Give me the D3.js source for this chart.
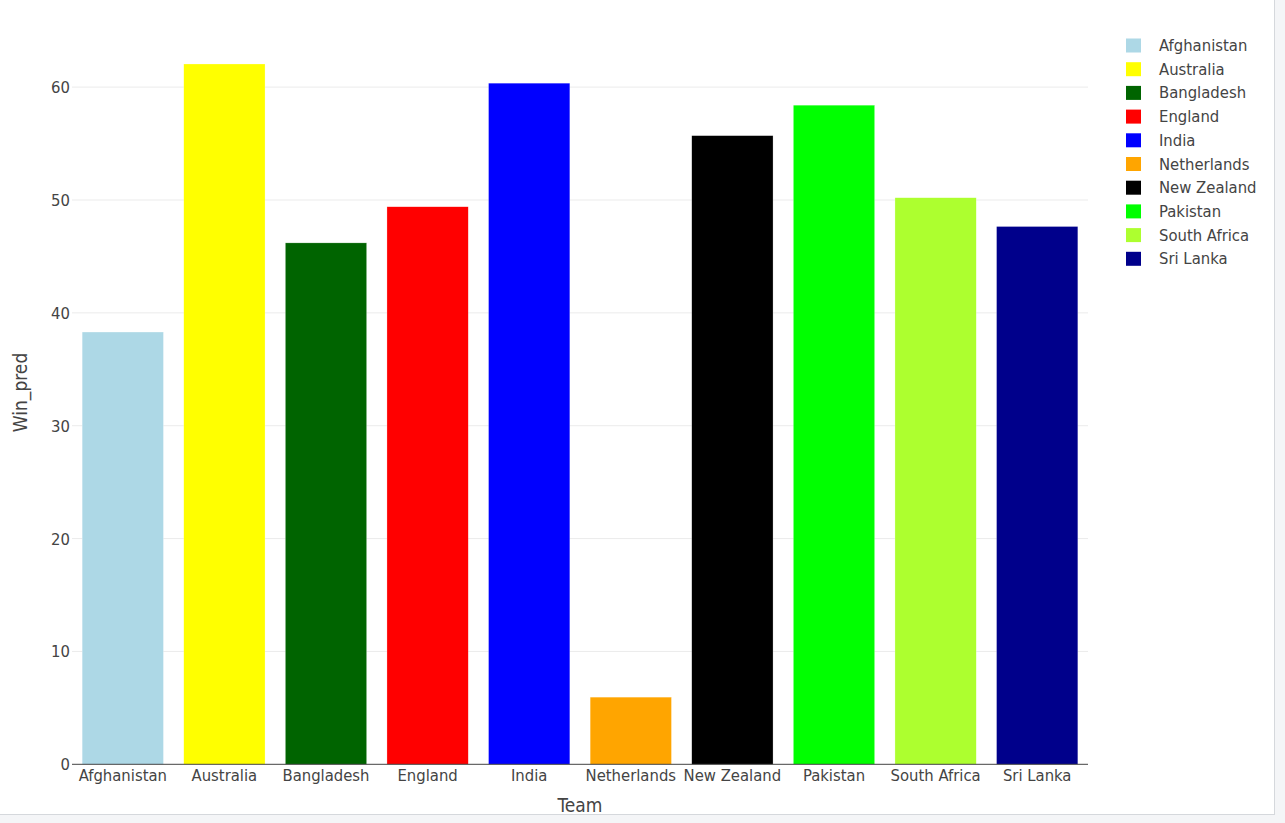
<!DOCTYPE html>
<html>
<head>
<meta charset="utf-8">
<script src="https://cdn.jsdelivr.net/npm/d3@7"></script>
<style>
  html, body { margin: 0; padding: 0; background: #f4f5f7; }
  #frame { position: absolute; left: 0; top: 0; width: 1274px; height: 814px; background: #fff; border-right: 1px solid #d5d8dc; border-bottom: 1px solid #d5d8dc; }
  svg text { font-family: 'DejaVu Sans Condensed', 'DejaVu Sans', sans-serif; font-stretch: condensed; fill: #444; }
</style>
</head>
<body>
<div id="frame"></div>
<svg id="chart" width="1285" height="823" style="position:absolute;left:0;top:0"></svg>
<script>
const teams = ["Afghanistan","Australia","Bangladesh","England","India","Netherlands","New Zealand","Pakistan","South Africa","Sri Lanka"];
const winPred = [38.3, 62.05, 46.2, 49.4, 60.35, 5.95, 55.7, 58.4, 50.2, 47.65];
const colors = ["#add8e6","#ffff00","#006400","#ff0000","#0000ff","#ffa500","#000000","#00ff00","#adff2f","#00008b"];
const yTicks = [0,10,20,30,40,50,60];
const xTitle = "Team";
const yTitle = "Win_pred";

const svg = d3.select("#chart");
const plotL = 72, plotR = 1088, plotT = 29, plotB = 764.3;

const x = d3.scaleBand().domain(teams).range([plotL, plotR]).paddingInner(0.2).paddingOuter(0.1);
const y = d3.scaleLinear().domain([0, 65.15]).range([plotB, plotT]);

// gridlines
svg.append("g").selectAll("line").data(yTicks.filter(d => d > 0)).join("line")
  .attr("x1", plotL).attr("x2", plotR)
  .attr("y1", d => y(d)).attr("y2", d => y(d))
  .attr("stroke", "#ebebeb").attr("stroke-width", 1);

// bars
svg.append("g").selectAll("rect").data(teams).join("rect")
  .attr("x", d => x(d))
  .attr("width", x.bandwidth())
  .attr("y", (d, i) => y(winPred[i]))
  .attr("height", (d, i) => y(0) - y(winPred[i]))
  .attr("fill", (d, i) => colors[i])
  .attr("stroke", "rgba(255,255,255,0.5)").attr("stroke-width", 0.5);

// x axis line
svg.append("line").attr("x1", plotL).attr("x2", plotR)
  .attr("y1", y(0)).attr("y2", y(0)).attr("stroke", "#444").attr("stroke-width", 1);

// y tick labels
svg.append("g").selectAll("text").data(yTicks).join("text")
  .attr("x", 70).attr("y", d => y(d) + 6)
  .attr("text-anchor", "end").attr("font-size", 16.5)
  .text(d => d);

// x tick labels
svg.append("g").selectAll("text").data(teams).join("text")
  .attr("x", d => x(d) + x.bandwidth() / 2).attr("y", 781)
  .attr("text-anchor", "middle").attr("font-size", 16.5)
  .text(d => d);

// axis titles
svg.append("text").attr("x", (plotL + plotR) / 2).attr("y", 812)
  .attr("text-anchor", "middle").attr("font-size", 19).text(xTitle);
svg.append("text").attr("transform", "translate(26.5," + 392.5 + ") rotate(-90)")
  .attr("text-anchor", "middle").attr("font-size", 19).text(yTitle);

// legend
const lg = svg.append("g");
const rowY = i => 45.5 + i * 23.7;
lg.selectAll("rect").data(teams).join("rect")
  .attr("x", 1126).attr("y", (d, i) => rowY(i) - 7)
  .attr("width", 15).attr("height", 14)
  .attr("fill", (d, i) => colors[i]);
lg.selectAll("text").data(teams).join("text")
  .attr("x", 1159).attr("y", (d, i) => rowY(i) + 5.5)
  .attr("font-size", 16.5)
  .text(d => d);
</script>
</body>
</html>
